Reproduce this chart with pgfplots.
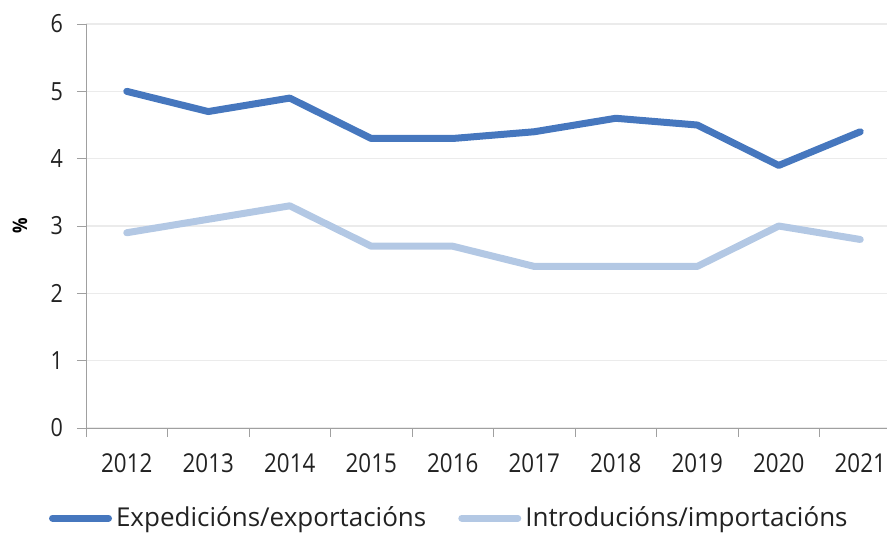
\documentclass[border=0pt]{standalone}
\usepackage{pgfplots}
\pgfplotsset{compat=1.18}
\usepackage{fontspec}
\setmainfont{Open Sans}[FakeStretch=0.86]
\newfontfamily\legfont{Open Sans}
\definecolor{darkb}{HTML}{4677BE}
\definecolor{lightb}{HTML}{B3C8E4}
\definecolor{gridc}{HTML}{EBEBEB}
\definecolor{axc}{HTML}{A0A0A0}
\definecolor{txt}{HTML}{222222}
\begin{document}
\begin{tikzpicture}
\path[use as bounding box] (-43pt,-52pt) rectangle (400.5pt,214pt);
\clip (-43pt,-52pt) rectangle (400.5pt,214pt);
\begin{axis}[
  at={(0pt,0pt)}, anchor=south west,
  scale only axis, width=407.5pt, height=202pt,
  xmin=-0.5, xmax=9.5, ymin=0, ymax=6,
  axis lines=left, axis line style={draw=axc, -},
  xtick={0,...,9},
  xticklabels={2012,2013,2014,2015,2016,2017,2018,2019,2020,2021},
  minor xtick={-0.5,0.5,...,9.5},
  ytick={0,...,6},
  major x tick style={draw=none},
  minor x tick style={draw=axc},
  y tick style={draw=axc},
  tick align=outside,
  minor tick length=4.5pt, major tick length=4.5pt,
  ymajorgrids, grid style={draw=gridc, line width=0.6pt},
  tick label style={font=\fontsize{12.5}{14}\selectfont, text=txt},
  xticklabel style={yshift=-5pt, font=\fontsize{13}{14}\selectfont},
  yticklabel style={xshift=-3.5pt},
  /pgf/number format/assume math mode=true,
  ylabel={\textbf{\%}},
  ylabel style={font=\fontsize{12.5}{14}\selectfont, text=txt},
  every axis y label/.style={at={(axis description cs:-0.081,0.5)}, rotate=90, anchor=center},
  legend columns=2,
  legend style={draw=none, fill=none, at={(0.447,-0.223)}, anchor=center,
    font=\legfont\fontsize{13}{14}\selectfont, text=txt,
    /tikz/every even column/.append style={column sep=14pt},
    inner sep=0pt},
  legend image code/.code={\draw[#1, line width=3.5pt] (0pt,0pt) -- (28pt,0pt);},
  legend cell align=left,
]
\addplot[darkb, line width=3.5pt, line join=round, line cap=round] coordinates {
 (0,5.0) (1,4.7) (2,4.9) (3,4.3) (4,4.3) (5,4.4) (6,4.6) (7,4.5) (8,3.9) (9,4.4)};
\addlegendentry{Expedicións/exportacións}
\addplot[lightb, line width=3.5pt, line join=round, line cap=round] coordinates {
 (0,2.9) (1,3.1) (2,3.3) (3,2.7) (4,2.7) (5,2.4) (6,2.4) (7,2.4) (8,3.0) (9,2.8)};
\addlegendentry{Introducións/importacións}
\end{axis}
\end{tikzpicture}
\end{document}
